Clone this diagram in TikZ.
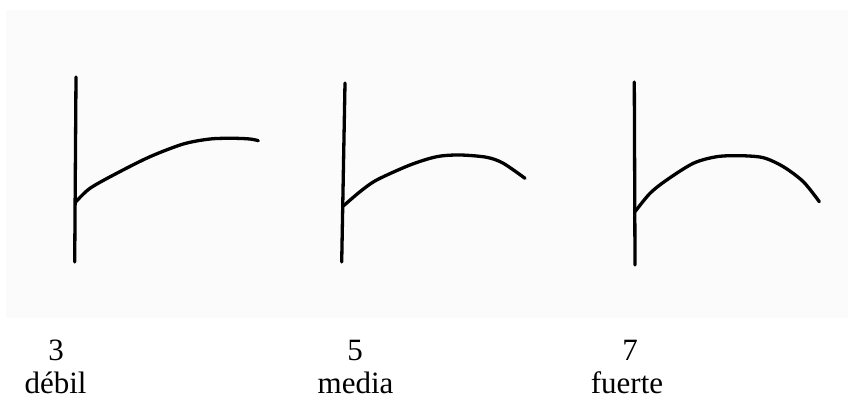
\documentclass[tikz,border=0pt]{standalone}
\usepackage{fontspec}
\setmainfont{Liberation Serif}
\definecolor{paper}{HTML}{FBFBFB}
\begin{document}
\begin{tikzpicture}[x=1pt,y=-1pt,
  stroke/.style={line width=3.3pt,line cap=round,line join=round},
  lbl/.style={font=\fontsize{31}{33}\selectfont,inner sep=0pt,anchor=base}]
\useasboundingbox (0,0) rectangle (848,401);
\fill[paper] (6,10) rectangle (848,318);
% panel 1
\coordinate (t1) at (76,77);
\coordinate (b1) at (74.7,262);
\coordinate (j1) at (76,201.7);
\draw[stroke] (t1) -- (b1);
\draw[stroke] plot[smooth,tension=0.5] coordinates {(j1) (90,188.3) (116.7,173.3) (150,156.7) (183.3,144) (210,139) (233.3,138.3) (250,139) (258.3,140.7)};
% panel 2
\coordinate (t2) at (345,83);
\coordinate (b2) at (341.7,262);
\coordinate (j2) at (343.3,206);
\draw[stroke] (t2) -- (b2);
\draw[stroke] plot[smooth,tension=0.5] coordinates {(j2) (360,191.7) (376.7,180) (410,165) (436.7,156.7) (460,155) (486.7,157.3) (503.3,163.3) (525,178.3)};
% panel 3
\coordinate (t3) at (634.3,82);
\coordinate (b3) at (635,265);
\coordinate (j3) at (635,211.7);
\draw[stroke] (t3) -- (b3);
\draw[stroke] plot[smooth,tension=0.5] coordinates {(j3) (650,193.3) (666.7,180) (693.3,163.3) (716.7,156.7) (740,155.7) (763.3,157.7) (783.3,166.7) (803.3,181.7) (819.3,201.7)};
% labels
\node[lbl] (n1) at (56,360) {3};
\node[lbl] (w1) at (55.5,393) {débil};
\node[lbl] (n2) at (355,360) {5};
\node[lbl] (w2) at (355.5,393) {media};
\node[lbl] (n3) at (630,360) {7};
\node[lbl] (w3) at (627,393) {fuerte};
\end{tikzpicture}
\end{document}
